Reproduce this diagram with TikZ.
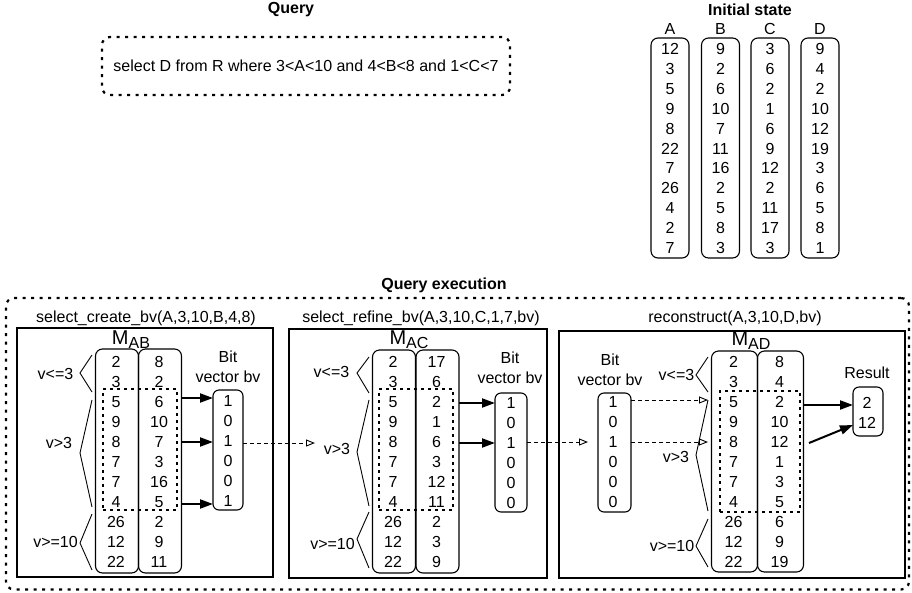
\documentclass[tikz,border=0pt]{standalone}
\usepackage{fontspec}
\setmainfont{Liberation Sans}
\usetikzlibrary{arrows.meta}
\begin{document}
\begin{tikzpicture}[x=1pt,y=-1pt,
  every node/.style={inner sep=0pt, outer sep=0pt, font=\fontsize{16}{20}\selectfont},
  ttl/.style={font=\fontsize{16}{20}\selectfont\bfseries},
  qbox/.style={draw, rounded corners=8pt, line width=2.2pt, dash pattern=on 3pt off 5.5pt},
  colbox/.style={draw, rounded corners=7pt, line width=1.1pt},
  panel/.style={draw, line width=1.1pt},
  sel/.style={draw, line width=2pt, dash pattern=on 3pt off 4pt},
  brace/.style={line width=0.9pt},
  bold arrow/.style={line width=2pt, -{Triangle[length=13pt,width=9pt]}},
  flow/.style={line width=0.9pt, dash pattern=on 4pt off 3pt, -{Triangle[open,length=9pt,width=7pt]}},
  bvbox/.style={draw, rounded corners=6pt, line width=1.1pt},
  mlabel/.style={anchor=base},
]
\useasboundingbox (0,0) rectangle (912,592);

% ---------- Query ----------
\node[ttl] (qtitle) at (291,10) {Query};
\node[qbox, minimum width=408pt, minimum height=58pt] (query) at (306,66) {select D from R where 3<A<10 and 4<B<8 and 1<C<7};

% ---------- Initial state ----------
\node[ttl] (itit) at (750,10) {Initial state};
\foreach \cn/\cx/\vals in {A/670/{12,3,5,9,8,22,7,26,4,2,7}, B/720.5/{9,2,6,10,7,11,16,2,5,8,3}, C/770/{3,6,2,1,6,9,12,2,11,17,3}, D/820/{9,4,2,10,12,19,3,6,5,8,1}}{
  \node (h\cn) at (\cx,29) {\cn};
  \node[colbox, minimum width=38pt, minimum height=220pt] (init\cn) at (\cx,148) {};
  \foreach \v [count=\i from 0] in \vals { \node (init\cn\i) at (\cx,49+19.9*\i) {\v}; }
}

% ---------- Query execution ----------
\node[ttl] (qetitle) at (444,285) {Query execution};
\node[qbox, minimum width=903pt, minimum height=291.5pt] (qexec) at (457.5,443.75) {};

% panels
\node[panel, minimum width=256pt, minimum height=249pt] (p1) at (145,452.5) {};
\node[panel, minimum width=258pt, minimum height=249pt] (p2) at (418,453.5) {};
\node[panel, minimum width=346pt, minimum height=247pt] (p3) at (732,454.5) {};
\node (t1) at (146,318) {select\_create\_bv(A,3,10,B,4,8)};
\node (t2) at (421,318) {select\_refine\_bv(A,3,10,C,1,7,bv)};
\node (t3) at (735,318) {reconstruct(A,3,10,D,bv)};

% matrix labels
\node[mlabel] (mab) at (131,344) {\fontsize{20}{24}\selectfont M\raisebox{-4pt}{\fontsize{16}{20}\selectfont AB}};
\node[mlabel] (mac) at (409,344) {\fontsize{20}{24}\selectfont M\raisebox{-4pt}{\fontsize{16}{20}\selectfont AC}};
\node[mlabel] (mad) at (751,345) {\fontsize{20}{24}\selectfont M\raisebox{-4pt}{\fontsize{16}{20}\selectfont AD}};

% matrix columns
\foreach \nm/\cx/\cy/\w/\h/\vals in {
  mA1/117/461/43/224/{2,3,5,9,8,7,7,4,26,12,22},
  mB1/160/461/43/224/{8,2,6,10,7,3,16,5,2,9,11},
  mA2/394/461.5/43/223/{2,3,5,9,8,7,7,4,26,12,22},
  mC2/437.5/461.5/43/223/{17,6,2,1,6,3,12,11,2,3,9},
  mA3/734.5/461.5/46/221/{2,3,5,9,8,7,7,4,26,12,22},
  mD3/780.5/461.5/46/221/{8,4,2,10,12,1,3,5,6,9,19}}{
  \node[colbox, minimum width=\w pt, minimum height=\h pt] (\nm) at (\cx,\cy) {};
  \foreach \v [count=\i from 0] in \vals { \node (\nm v\i) at (\cx-1,362+20*\i) {\v}; }
}

% selected regions
\node[sel, minimum width=74pt, minimum height=121pt] (s1) at (140,449.5) {};
\node[sel, minimum width=74pt, minimum height=121pt] (s2) at (416,449.5) {};
\node[sel, minimum width=80pt, minimum height=121pt] (s3) at (760,451.5) {};

% braces and labels, panel 1
\draw[brace] (92,355) -- (80,373) -- (92,392);
\draw[brace] (92,400) -- (80,453) -- (92,507);
\draw[brace] (92,514) -- (80,543) -- (92,570);
\node (l1a) at (55.5,374) {v<=3};
\node (l1b) at (59,443) {v>3};
\node (l1c) at (55.5,542) {v>=10};
% panel 2
\draw[brace] (369,357) -- (357,373) -- (369,393);
\draw[brace] (369,400) -- (357,452) -- (369,506);
\draw[brace] (369,512) -- (357,539) -- (369,568);
\node (l2a) at (331.5,372) {v<=3};
\node (l2b) at (337,449) {v>3};
\node (l2c) at (332.5,544) {v>=10};
% panel 3
\draw[brace] (708,357) -- (696,375) -- (708,392);
\draw[brace] (708,400) -- (696,455) -- (708,511);
\draw[brace] (708,519) -- (696,546) -- (708,567);
\node (l3a) at (676.5,375) {v<=3};
\node (l3b) at (676,457) {v>3};
\node (l3c) at (672,546) {v>=10};

% bit vectors
\node[align=center] (bvl1) at (228,367) {Bit\\vector bv};
\node[align=center] (bvl2) at (510,367.5) {Bit\\vector bv};
\node[align=center] (bvl3) at (610,370) {Bit\\vector bv};
\node[bvbox, minimum width=30pt, minimum height=120pt] (bv1) at (228,450) {};
\node[bvbox, minimum width=32pt, minimum height=119pt] (bv2) at (511,452.5) {};
\node[bvbox, minimum width=33pt, minimum height=119pt] (bv3) at (614.5,452.5) {};
\foreach \v [count=\i from 0] in {1,0,1,0,0,1} { \node (bv1v\i) at (228,401+20*\i) {\v}; }
\foreach \v [count=\i from 0] in {1,0,1,0,0,0} { \node (bv2v\i) at (511,403+20*\i) {\v}; }
\foreach \v [count=\i from 0] in {1,0,1,0,0,0} { \node (bv3v\i) at (613,402+20*\i) {\v}; }

% result
\node (resl) at (867,373) {Result};
\node[bvbox, minimum width=30pt, minimum height=49pt] (res) at (868,411.5) {};
\node (resv0) at (867,403) {2};
\node (resv1) at (867,423) {12};

% connector end points
\coordinate (a1) at (0,398);
\coordinate (a2) at (0,442);
\coordinate (a3) at (0,504);
\coordinate (b1) at (0,403);
\coordinate (b2) at (0,443);
\coordinate (f1) at (315,443);
\coordinate (f2) at (588,442);
\coordinate (d1) at (708,400);
\coordinate (d2) at (708,442);
\coordinate (r1) at (0,405);
\coordinate (r2s) at (809,443);
\coordinate (r2e) at (853,425);

% arrows panel 1
\draw[bold arrow] (mB1.east |- a1) -- (bv1.west |- a1);
\draw[bold arrow] (mB1.east |- a2) -- (bv1.west |- a2);
\draw[bold arrow] (mB1.east |- a3) -- (bv1.west |- a3);
% arrows panel 2
\draw[bold arrow] (mC2.east |- b1) -- (bv2.west |- b1);
\draw[bold arrow] (mC2.east |- b2) -- (bv2.west |- b2);
% flows between panels
\draw[flow] (bv1.east |- f1) -- (f1);
\draw[flow] (bv2.east |- f2) -- (f2);
% panel 3
\draw[flow] (bv3.east |- d1) -- (d1);
\draw[flow] (bv3.east |- d2) -- (d2);
\draw[bold arrow] (mD3.east |- r1) -- (res.west |- r1);
\draw[bold arrow] (r2s) -- (r2e);
\end{tikzpicture}
\end{document}
